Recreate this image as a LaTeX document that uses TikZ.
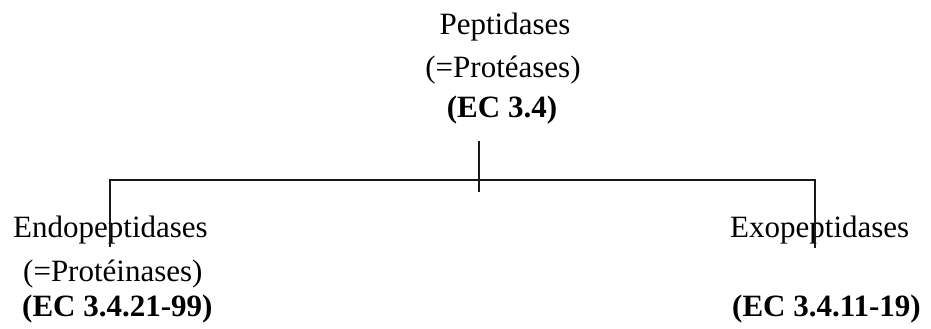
\documentclass[tikz,border=0pt]{standalone}
\usepackage{fontspec}
\setmainfont{Liberation Serif}
\begin{document}
\begin{tikzpicture}[x=1pt,y=1pt,
  label/.style={inner sep=0pt, font=\fontsize{31}{37}\selectfont},
  boldlabel/.style={label, font=\fontsize{31}{37}\selectfont\bfseries},
  branch/.style={line width=1.6pt, black!90}]
\useasboundingbox (0,0) rectangle (931,329);

% root
\node[label, anchor=base] (root1) at (505,294) {Peptidases};
\node[label, anchor=base] (root2) at (503,251) {(=Protéases)};
\node[boldlabel, anchor=base] (root3) at (502,211) {(EC 3.4)};

% left child
\node[label, anchor=base west] (endo1) at (13,91) {Endopeptidases};
\node[label, anchor=base west] (endo2) at (23,47) {(=Protéinases)};
\node[boldlabel, anchor=base west] (endo3) at (22,12) {(EC 3.4.21-99)};

% right child
\node[label, anchor=base west] (exo1) at (730,91) {Exopeptidases};
\node[boldlabel, anchor=base west] (exo3) at (732,12) {(EC 3.4.11-19)};

% tree connectors
\coordinate (stubtop) at (479,188);
\coordinate (stubbot) at (479,137);
\coordinate (lcorner) at (110,149);
\coordinate (rcorner) at (815,149);
\coordinate (lend) at (110,82);
\coordinate (rend) at (815,81);

\draw[branch] (stubtop) -- (stubbot);
\draw[branch] (lend) -- (lcorner) -- (rcorner) -- (rend);
\end{tikzpicture}
\end{document}
